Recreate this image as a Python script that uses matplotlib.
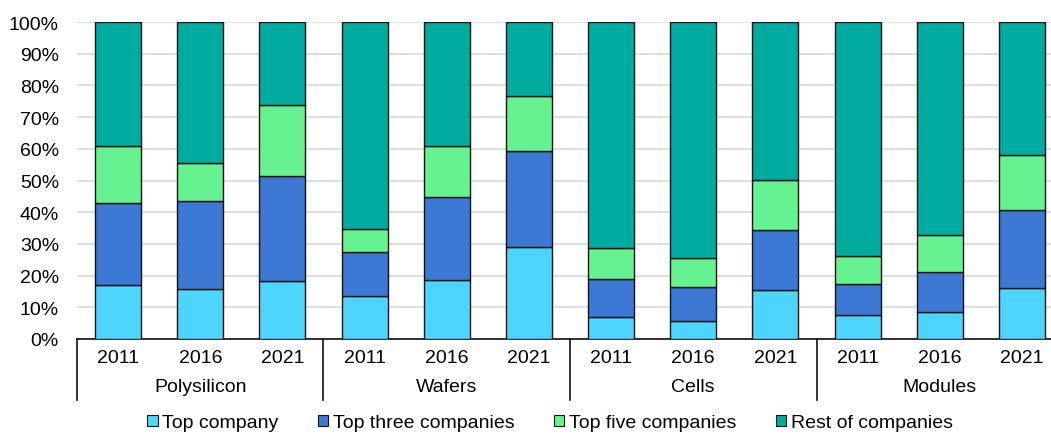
import numpy as np
import matplotlib.pyplot as plt
from matplotlib.patches import Patch
from matplotlib.transforms import blended_transform_factory

plt.rcParams['font.family'] = ['Liberation Sans', 'DejaVu Sans']

# Daten (Anteile in %)
segments = ["Polysilicon", "Wafers", "Cells", "Modules"]
years = ["2011", "2016", "2021"]
top_company = [17.0, 15.9, 18.4, 13.7, 18.7, 28.9, 6.8, 5.8, 15.3, 7.7, 8.5, 16.2]
top_three = [25.8, 27.7, 33.1, 13.7, 26.0, 30.4, 12.1, 10.6, 19.1, 9.7, 12.7, 24.6]
top_five = [18.1, 11.9, 22.2, 7.3, 16.1, 17.2, 9.8, 9.0, 15.7, 8.9, 11.7, 17.4]
rest = [39.1, 44.5, 26.3, 65.3, 39.2, 23.5, 71.3, 74.6, 49.9, 73.7, 67.1, 41.8]

series = [
    ("Top company", top_company, "#4dd4ff"),
    ("Top three companies", top_three, "#3c78d4"),
    ("Top five companies", top_five, "#66f290"),
    ("Rest of companies", rest, "#00ac9f"),
]

W, H = 1051, 435
fs = 14
fig = plt.figure(figsize=(W / 100, H / 100), dpi=100)
ax = fig.add_axes([77 / W, (H - 340) / H, (1063 - 77) / W, (340 - 23) / H])

x = np.arange(len(top_company))
bottom = np.zeros(len(x))
for name, vals, col in series:
    ax.bar(x, vals, width=0.56, bottom=bottom, color=col, edgecolor="#111111",
           linewidth=1.0, zorder=3)
    bottom += np.array(vals)

ax.set_xlim(-0.5, len(x) - 0.5)
ax.set_ylim(0, 100)
ax.set_yticks(np.arange(0, 101, 10))
ax.set_yticklabels([f"{v}%" for v in range(0, 101, 10)], fontsize=fs)
ax.yaxis.grid(True, color="#d9d9d9", linewidth=1.2, zorder=0)
ax.tick_params(axis="y", length=0, pad=13)

for s in ["left", "right", "top"]:
    ax.spines[s].set_visible(False)
ax.spines["bottom"].set_color("#111111")
ax.spines["bottom"].set_linewidth(1.2)

ax.set_xticks(x)
ax.set_xticklabels(years * len(segments), fontsize=fs)
ax.tick_params(axis="x", length=0, pad=7)

# Kategorien und Trennlinien unter der Achse
trans = blended_transform_factory(ax.transData, ax.transAxes)
ax_h = 340 - 23
for i, seg in enumerate(segments):
    ax.text(3 * i + 1, -48 / ax_h, seg, transform=trans, ha="center", va="center",
            fontsize=fs)
for b in np.arange(-0.5, len(x), 3):
    ax.plot([b, b], [0, -61 / ax_h], transform=trans, color="#111111",
            linewidth=1.2, clip_on=False)

handles = [Patch(facecolor=c, edgecolor="#111111", linewidth=0.8, label=n)
           for n, _, c in series]
fig.legend(handles=handles, loc="center", bbox_to_anchor=(550 / W, (H - 424) / H),
           ncol=4, frameon=False, fontsize=fs, handlelength=0.55, handleheight=0.55,
           handletextpad=0.25, columnspacing=2.0)

fig.savefig("out.png", dpi=100)
